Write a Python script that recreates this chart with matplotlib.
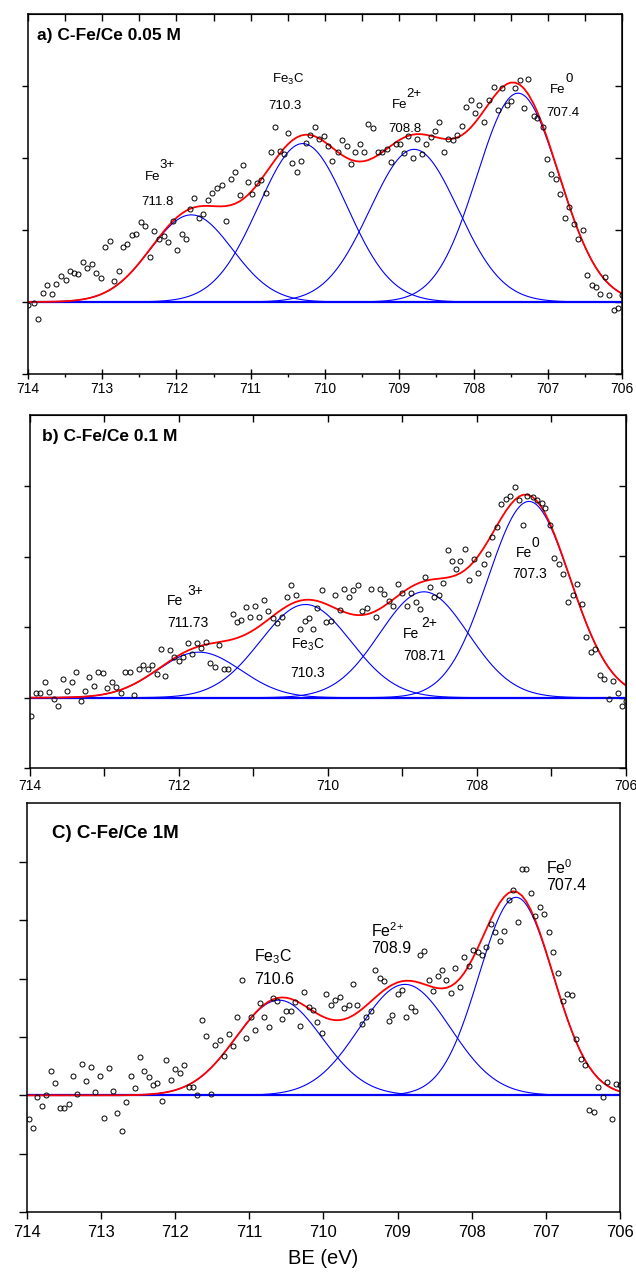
import numpy as np
import matplotlib.pyplot as plt

plt.rcParams['font.family'] = ['Liberation Sans', 'DejaVu Sans']
plt.rcParams['mathtext.fontset'] = 'custom'
plt.rcParams['mathtext.rm'] = 'Liberation Sans'
plt.rcParams['mathtext.default'] = 'regular'

# ---- a) C-Fe/Ce 0.05 M ----
be_a = [714.00, 713.92, 713.86, 713.80, 713.74, 713.68, 713.62, 713.56, 713.49, 713.44,
        713.38, 713.32, 713.26, 713.20, 713.14, 713.08, 713.02, 712.96, 712.90, 712.84,
        712.78, 712.72, 712.66, 712.60, 712.54, 712.48, 712.42, 712.36, 712.30, 712.24,
        712.17, 712.11, 712.05, 711.99, 711.93, 711.87, 711.82, 711.76, 711.70, 711.64,
        711.58, 711.52, 711.46, 711.39, 711.33, 711.27, 711.21, 711.15, 711.10, 711.04,
        710.98, 710.92, 710.86, 710.79, 710.73, 710.67, 710.61, 710.55, 710.50, 710.44,
        710.38, 710.32, 710.26, 710.20, 710.14, 710.08, 710.02, 709.96, 709.90, 709.83,
        709.77, 709.71, 709.65, 709.59, 709.53, 709.47, 709.42, 709.35, 709.29, 709.23,
        709.17, 709.11, 709.05, 708.99, 708.94, 708.88, 708.82, 708.76, 708.70, 708.64,
        708.57, 708.52, 708.46, 708.40, 708.34, 708.28, 708.22, 708.16, 708.10, 708.04,
        707.98, 707.92, 707.86, 707.79, 707.73, 707.67, 707.61, 707.55, 707.50, 707.44,
        707.38, 707.32, 707.26, 707.19, 707.14, 707.07, 707.01, 706.96, 706.89, 706.83,
        706.77, 706.71, 706.65, 706.59, 706.53, 706.47, 706.41, 706.35, 706.29, 706.23,
        706.17, 706.11, 706.05, 706.00]
int_a = [-0.04, -0.01, -0.24, 0.12, 0.23, 0.11, 0.25, 0.36, 0.31, 0.43,
         0.40, 0.39, 0.55, 0.47, 0.53, 0.40, 0.33, 0.76, 0.85, 0.29,
         0.43, 0.76, 0.80, 0.93, 0.94, 1.11, 1.05, 0.62, 0.99, 0.88,
         0.92, 0.83, 1.13, 0.72, 0.94, 0.88, 1.29, 1.44, 1.17, 1.22,
         1.42, 1.51, 1.58, 1.62, 1.13, 1.71, 1.80, 1.48, 1.90, 1.66,
         1.50, 1.65, 1.69, 1.52, 2.08, 2.43, 2.10, 2.06, 2.35, 1.93,
         1.81, 1.96, 2.21, 2.32, 2.43, 2.27, 2.30, 2.17, 1.96, 2.08,
         2.25, 2.16, 1.92, 2.08, 2.19, 2.08, 2.47, 2.41, 2.08, 2.08,
         2.12, 1.95, 2.19, 2.19, 2.07, 2.30, 2.00, 2.27, 2.05, 2.19,
         2.29, 2.38, 2.50, 2.08, 2.26, 2.25, 2.32, 2.44, 2.71, 2.80,
         2.63, 2.73, 2.50, 2.80, 2.98, 2.67, 2.97, 2.73, 2.79, 2.97,
         3.09, 2.69, 3.10, 2.58, 2.55, 2.43, 1.99, 1.78, 1.71, 1.50,
         1.17, 1.32, 1.08, 0.87, 1.00, 0.37, 0.23, 0.21, 0.11, 0.35,
         0.09, -0.11, -0.08, 0.10]
# fitted peaks: Fe3+, Fe3C, Fe2+, Fe0
pos_a = [711.8, 710.3, 708.8, 707.4]
amp_a = [1.21, 2.20, 2.12, 2.90]
fwhm_a = [1.30, 1.40, 1.40, 1.30]

# ---- b) C-Fe/Ce 0.1 M ----
be_b = [713.98, 713.92, 713.86, 713.80, 713.74, 713.68, 713.62, 713.56, 713.50, 713.43,
        713.38, 713.32, 713.26, 713.20, 713.14, 713.08, 713.02, 712.96, 712.90, 712.84,
        712.78, 712.72, 712.66, 712.60, 712.54, 712.48, 712.42, 712.36, 712.30, 712.24,
        712.18, 712.12, 712.06, 712.00, 711.94, 711.88, 711.82, 711.76, 711.70, 711.64,
        711.58, 711.52, 711.46, 711.40, 711.34, 711.28, 711.22, 711.16, 711.10, 711.04,
        710.98, 710.92, 710.86, 710.80, 710.74, 710.68, 710.62, 710.55, 710.49, 710.43,
        710.37, 710.31, 710.25, 710.20, 710.14, 710.08, 710.02, 709.96, 709.90, 709.84,
        709.78, 709.72, 709.66, 709.60, 709.54, 709.47, 709.42, 709.36, 709.30, 709.24,
        709.18, 709.12, 709.06, 709.00, 708.94, 708.88, 708.82, 708.76, 708.70, 708.63,
        708.58, 708.51, 708.45, 708.39, 708.34, 708.28, 708.22, 708.16, 708.10, 708.04,
        707.98, 707.91, 707.85, 707.79, 707.73, 707.67, 707.61, 707.55, 707.49, 707.43,
        707.38, 707.32, 707.25, 707.19, 707.13, 707.08, 707.02, 706.96, 706.90, 706.84,
        706.77, 706.71, 706.66, 706.59, 706.53, 706.47, 706.41, 706.35, 706.29, 706.23,
        706.17, 706.11, 706.05, 706.00]
int_b = [-0.26, 0.06, 0.06, 0.22, 0.08, -0.02, -0.12, 0.26, 0.10, 0.22,
         0.36, -0.05, 0.10, 0.30, 0.17, 0.36, 0.35, 0.14, 0.22, 0.15,
         0.07, 0.36, 0.36, 0.04, 0.41, 0.47, 0.41, 0.46, 0.34, 0.69,
         0.31, 0.68, 0.57, 0.52, 0.57, 0.78, 0.62, 0.77, 0.71, 0.79,
         0.49, 0.43, 0.75, 0.41, 0.41, 1.18, 1.07, 1.10, 1.29, 1.15,
         1.30, 1.15, 1.39, 1.23, 1.13, 1.06, 1.14, 1.43, 1.59, 1.46,
         0.98, 1.08, 1.13, 0.98, 1.27, 1.53, 1.07, 1.09, 1.46, 1.24,
         1.54, 1.42, 1.52, 1.59, 1.23, 1.27, 1.54, 1.15, 1.54, 1.47,
         1.37, 1.30, 1.61, 1.49, 1.30, 1.49, 1.35, 1.25, 1.71, 1.57,
         1.42, 1.46, 1.62, 2.09, 1.93, 1.83, 1.93, 2.10, 1.67, 1.96,
         1.77, 1.90, 2.04, 2.28, 2.42, 2.74, 2.82, 2.85, 2.98, 2.80,
         2.44, 2.85, 2.84, 2.80, 2.76, 2.69, 2.44, 1.98, 1.90, 1.75,
         1.36, 1.45, 1.61, 1.33, 0.86, 0.65, 0.69, 0.32, 0.27, -0.02,
         0.24, 0.06, -0.12, -0.05]
pos_b = [711.73, 710.3, 708.71, 707.3]
amp_b = [0.645, 1.32, 1.50, 2.78]
fwhm_b = [1.32, 1.43, 1.40, 1.30]

# ---- C) C-Fe/Ce 1M ----
be_c = [713.98, 713.92, 713.86, 713.80, 713.74, 713.68, 713.62, 713.56, 713.50, 713.44,
        713.38, 713.32, 713.26, 713.20, 713.14, 713.08, 713.02, 712.96, 712.90, 712.84,
        712.78, 712.72, 712.66, 712.60, 712.54, 712.48, 712.42, 712.36, 712.30, 712.24,
        712.18, 712.12, 712.06, 712.00, 711.94, 711.88, 711.82, 711.76, 711.70, 711.64,
        711.58, 711.52, 711.46, 711.40, 711.34, 711.28, 711.22, 711.16, 711.10, 711.04,
        710.98, 710.92, 710.86, 710.80, 710.74, 710.68, 710.62, 710.56, 710.50, 710.44,
        710.38, 710.32, 710.26, 710.20, 710.14, 710.08, 710.02, 709.96, 709.90, 709.84,
        709.78, 709.72, 709.66, 709.60, 709.54, 709.48, 709.42, 709.36, 709.30, 709.24,
        709.18, 709.12, 709.07, 709.00, 708.94, 708.88, 708.82, 708.76, 708.70, 708.64,
        708.58, 708.52, 708.46, 708.40, 708.34, 708.28, 708.22, 708.16, 708.10, 708.04,
        707.98, 707.92, 707.86, 707.80, 707.74, 707.68, 707.62, 707.56, 707.50, 707.44,
        707.38, 707.32, 707.26, 707.20, 707.14, 707.08, 707.02, 706.96, 706.90, 706.83,
        706.77, 706.71, 706.65, 706.59, 706.53, 706.47, 706.42, 706.35, 706.29, 706.23,
        706.17, 706.11, 706.05, 706.00]
int_c = [-0.41, -0.55, -0.02, -0.19, 0.01, 0.41, 0.22, -0.22, -0.22, -0.15,
         0.34, 0.03, 0.53, 0.24, 0.49, 0.05, 0.34, -0.39, 0.47, 0.07,
         -0.31, -0.61, -0.11, 0.33, 0.12, 0.66, 0.41, 0.32, 0.18, 0.21,
         -0.09, 0.61, 0.27, 0.45, 0.39, 0.52, 0.14, 0.15, 0.01, 1.29,
         1.01, 0.03, 0.86, 0.95, 0.67, 1.05, 0.84, 1.34, 1.97, 0.99,
         1.34, 1.12, 1.58, 1.34, 1.17, 1.67, 1.61, 1.31, 1.44, 1.44,
         1.59, 1.18, 1.77, 1.51, 1.46, 1.26, 1.06, 1.74, 1.54, 1.64,
         1.69, 1.50, 1.54, 1.91, 1.55, 1.23, 1.35, 1.45, 2.14, 2.01,
         1.95, 1.27, 1.37, 1.73, 1.81, 1.35, 1.52, 1.45, 2.40, 2.47,
         1.98, 1.78, 2.05, 2.15, 1.98, 1.75, 2.18, 1.85, 2.37, 2.21,
         2.49, 2.46, 2.40, 2.54, 2.93, 2.79, 2.64, 2.82, 3.35, 3.51,
         2.96, 3.87, 3.87, 3.46, 3.07, 3.23, 3.11, 2.79, 2.45, 2.10,
         1.61, 1.74, 1.71, 0.97, 0.62, 0.52, -0.25, -0.29, 0.15, -0.02,
         0.23, -0.41, 0.19, 0.18]
# fitted peaks: Fe3C, Fe2+, Fe0
pos_c = [710.6, 708.9, 707.4]
amp_c = [1.63, 1.90, 3.39]
fwhm_c = [1.37, 1.45, 1.18]


def gauss(x, x0, a, w):
    return a * np.exp(-4 * np.log(2) * (x - x0)**2 / w**2)


def draw_fit(ax, be, inten, pos, amp, fwhm):
    xf = np.linspace(714, 706, 801)
    for p, a, w in zip(pos, amp, fwhm):
        ax.plot(xf, gauss(xf, p, a, w), color='blue', lw=0.8)
    ax.axhline(0, color='blue', lw=1.6)
    be = np.array(be)
    env = np.zeros(len(be))
    for p, a, w in zip(pos, amp, fwhm):
        env += gauss(be, p, a, w)
    ax.plot(be, env, color='red', lw=1.3)
    ax.plot(be, inten, 'o', mfc='none', mec='black', ms=3.6, mew=0.7)
    ax.set_xlim(714, 706)
    for s in ax.spines.values():
        s.set_linewidth(1.1)


def fe_label(ax, x, y, sup, size, dx, dy):
    # "Fe" with a raised charge written next to it
    ax.text(x, y, 'Fe', fontsize=size, ha='left', va='baseline')
    ax.annotate(sup, xy=(x, y), xytext=(dx, dy), textcoords='offset points',
                fontsize=size, ha='left', va='baseline')


fig = plt.figure(figsize=(6.36, 12.72), dpi=100)

# panel a
ax1 = fig.add_axes([0.044, 0.706, 0.934, 0.283])
draw_fit(ax1, be_a, int_a, pos_a, amp_a, fwhm_a)
ax1.set_ylim(-1, 4)
ax1.set_yticks([-1, 0, 1, 2, 3])
ax1.set_xticks(np.arange(706, 715, 1))
ax1.set_xticks(np.arange(706, 714.1, 0.5), minor=True)
ax1.tick_params(axis='x', which='major', direction='inout', length=7, width=1,
                labelsize=10, pad=2)
ax1.tick_params(axis='x', which='minor', direction='out', length=2.5, width=1)
ax1.tick_params(axis='y', direction='out', length=4, width=1, labelleft=False)
top1 = ax1.secondary_xaxis('top')
top1.set_xticks(np.arange(706, 714.1, 0.5))
top1.tick_params(direction='in', length=5, width=1, labeltop=False)
rt1 = ax1.secondary_yaxis('right')
rt1.set_yticks([-1, 0, 1, 2, 3])
rt1.tick_params(direction='in', length=5, width=1, labelright=False)
ax1.text(0.015, 0.928, 'a) C-Fe/Ce 0.05 M', transform=ax1.transAxes,
         fontsize=12.5, fontweight='bold', va='baseline')
fe_label(ax1, 712.43, 1.69, '3+', 9.5, 10.5, 8.5)
ax1.text(712.48, 1.35, '711.8', fontsize=9.5, va='baseline')
ax1.text(710.71, 3.04, r'Fe$_{3}$C', fontsize=9.5, va='baseline')
ax1.text(710.76, 2.68, '710.3', fontsize=9.5, va='baseline')
fe_label(ax1, 709.10, 2.69, '2+', 9.5, 10.5, 8.5)
ax1.text(709.15, 2.36, '708.8', fontsize=9.5, va='baseline')
fe_label(ax1, 706.97, 2.90, '0', 9.5, 11.5, 8)
ax1.text(707.02, 2.58, '707.4', fontsize=9.5, va='baseline')

# panel b
ax2 = fig.add_axes([0.047, 0.396, 0.937, 0.2775])
draw_fit(ax2, be_b, int_b, pos_b, amp_b, fwhm_b)
ax2.set_ylim(-1, 4)
ax2.set_yticks([-1, 0, 1, 2, 3])
ax2.set_xticks(np.arange(706, 715, 2))
ax2.set_xticks(np.arange(706, 715, 1), minor=True)
ax2.tick_params(axis='x', which='both', direction='out', length=6, width=1,
                labelsize=10, pad=2)
ax2.tick_params(axis='y', direction='out', length=4, width=1, labelleft=False)
top2 = ax2.secondary_xaxis('top')
top2.set_xticks(np.arange(706, 715, 1))
top2.tick_params(direction='in', length=5, width=1, labeltop=False)
rt2 = ax2.secondary_yaxis('right')
rt2.set_yticks([-1, 0, 1, 2, 3])
rt2.tick_params(direction='in', length=5, width=1, labelright=False)
ax2.text(0.02, 0.926, 'b) C-Fe/Ce 0.1 M', transform=ax2.transAxes,
         fontsize=12.5, fontweight='bold', va='baseline')
fe_label(ax2, 712.16, 1.31, '3+', 10, 14.5, 7.5)
ax2.text(712.16, 1.00, '711.73', fontsize=10, va='baseline')
ax2.text(710.50, 0.69, r'Fe$_{3}$C', fontsize=10, va='baseline')
ax2.text(710.50, 0.30, '710.3', fontsize=10, va='baseline')
fe_label(ax2, 708.99, 0.85, '2+', 10, 13, 8)
ax2.text(708.99, 0.54, '708.71', fontsize=10, va='baseline')
fe_label(ax2, 707.48, 1.99, '0', 10, 11.5, 7.5)
ax2.text(707.52, 1.69, '707.3', fontsize=10, va='baseline')

# panel c
ax3 = fig.add_axes([0.0425, 0.047, 0.932, 0.3215])
draw_fit(ax3, be_c, int_c, pos_c, amp_c, fwhm_c)
ax3.set_ylim(-2, 5)
ax3.set_yticks([-2, -1, 0, 1, 2, 3, 4])
ax3.set_xticks(np.arange(706, 715, 1))
ax3.tick_params(axis='x', direction='out', length=5, width=1, labelsize=12, pad=4)
ax3.tick_params(axis='y', direction='out', length=6, width=1, labelleft=False)
ax3.set_xlabel('BE (eV)', fontsize=14.5, labelpad=7)
ax3.text(0.042, 0.914, 'C) C-Fe/Ce 1M', transform=ax3.transAxes,
         fontsize=13.5, fontweight='bold', va='baseline')
ax3.text(710.93, 2.30, r'Fe$_{3}$C', fontsize=11.5, va='baseline')
ax3.text(710.93, 1.90, '710.6', fontsize=11.5, va='baseline')
ax3.text(709.36, 2.71, r'Fe$^{2{+}}$', fontsize=11.5, va='baseline')
ax3.text(709.36, 2.43, '708.9', fontsize=11.5, va='baseline')
ax3.text(706.99, 3.79, r'Fe$^{0}$', fontsize=11.5, va='baseline')
ax3.text(706.99, 3.52, '707.4', fontsize=11.5, va='baseline')

fig.savefig('out.png', dpi=100)
